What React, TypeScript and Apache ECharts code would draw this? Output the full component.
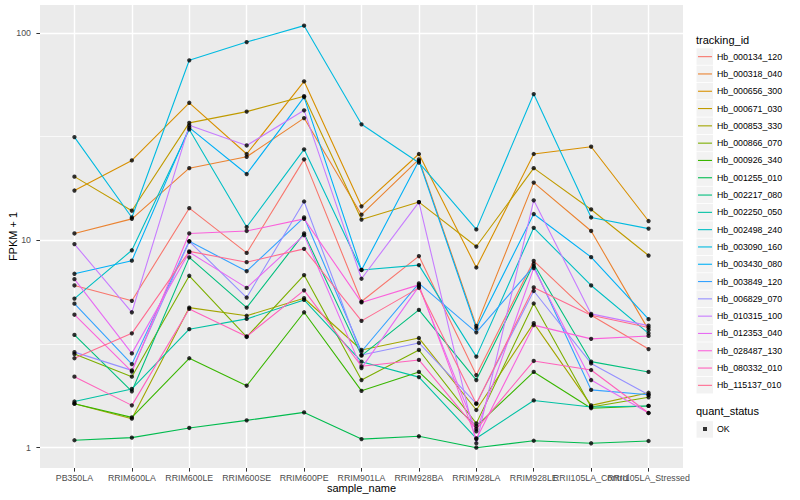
import React, { useEffect, useRef } from 'react';
import * as echarts from 'echarts';

const categories = [
  'PB350LA', 'RRIM600LA', 'RRIM600LE', 'RRIM600SE', 'RRIM600PE', 'RRIM901LA',
  'RRIM928BA', 'RRIM928LA', 'RRIM928LE', 'RRII105LA_Control', 'RRII105LA_Stressed',
];

const genes = [
  'Hb_000134_120', 'Hb_000318_040', 'Hb_000656_300', 'Hb_000671_030', 'Hb_000853_330',
  'Hb_000866_070', 'Hb_000926_340', 'Hb_001255_010', 'Hb_002217_080', 'Hb_002250_050',
  'Hb_002498_240', 'Hb_003090_160', 'Hb_003430_080', 'Hb_003849_120', 'Hb_006829_070',
  'Hb_010315_100', 'Hb_012353_040', 'Hb_028487_130', 'Hb_080332_010', 'Hb_115137_010',
];

const geneColors = [
  '#F8766D', '#EA8331', '#D89000', '#C09B00', '#A3A500', '#7CAE00', '#39B600', '#00BB4E',
  '#00BF7D', '#00C1A3', '#00BFC4', '#00BAE0', '#00B0F6', '#35A2FF', '#9590FF', '#C77CFF',
  '#E76BF3', '#FA62DB', '#FF62BC', '#FF6C91',
];

// FPKM + 1 values, one per sample (same order as categories)
const hb_000134_120 = [6.06, 5.11, 14.3, 8.7, 24.6, 5.07, 8.4, 2.24, 7.97, 4.35, 2.99];
const hb_000318_040 = [10.8, 12.7, 22.3, 25.3, 38.9, 13.3, 24.6, 3.87, 19.0, 11.1, 3.7];
const hb_000656_300 = [17.4, 24.3, 46.1, 26.1, 58.5, 14.6, 26.1, 7.4, 26.1, 28.3, 12.4];
const hb_000671_030 = [20.3, 13.9, 36.9, 41.8, 49.6, 12.6, 15.3, 9.34, 22.3, 14.1, 8.45];
const hb_000853_330 = [1.63, 1.38, 4.74, 4.33, 5.26, 2.96, 3.38, 1.52, 3.99, 1.6, 1.84];
const hb_000866_070 = [2.83, 2.2, 6.75, 3.42, 6.8, 2.12, 2.96, 1.31, 4.96, 1.57, 1.75];
const hb_000926_340 = [1.63, 1.4, 2.7, 1.99, 4.5, 1.88, 2.32, 1.27, 2.32, 1.55, 1.59];
const hb_001255_010 = [1.086, 1.118, 1.245, 1.355, 1.48, 1.1, 1.135, 1.0, 1.08, 1.05, 1.077];
const hb_002217_080 = [3.5, 1.87, 8.28, 4.74, 10.8, 2.78, 4.62, 2.12, 7.7, 2.6, 2.32];
const hb_002250_050 = [1.67, 1.92, 3.73, 4.18, 5.16, 2.6, 2.19, 1.11, 1.69, 1.57, 1.59];
const hb_002498_240 = [5.24, 8.96, 34.3, 11.6, 27.5, 7.2, 7.6, 2.75, 11.5, 6.06, 3.56];
const hb_003090_160 = [31.5, 12.9, 73.9, 90.5, 108.6, 36.3, 23.7, 11.3, 50.8, 12.9, 11.4];
const hb_003430_080 = [6.9, 7.98, 35.0, 20.9, 49.1, 7.2, 24.2, 3.77, 13.4, 8.3, 4.17];
const hb_003849_120 = [4.95, 2.53, 9.9, 7.1, 12.9, 2.91, 6.2, 3.6, 7.5, 1.9, 1.8];
const hb_006829_070 = [2.89, 2.36, 9.9, 5.3, 15.4, 2.8, 3.2, 1.63, 5.7, 2.55, 1.8];
const hb_010315_100 = [9.6, 4.5, 35.9, 28.7, 42.4, 6.53, 15.3, 1.05, 15.6, 4.42, 3.88];
const hb_012353_040 = [6.5, 2.85, 8.77, 5.9, 10.6, 2.42, 6.0, 1.2, 7.35, 2.12, 1.47];
const hb_028487_130 = [4.38, 2.33, 10.8, 11.1, 12.7, 5.02, 6.1, 1.1, 3.9, 3.35, 3.46];
const hb_080332_010 = [2.2, 1.6, 4.67, 3.44, 5.74, 2.47, 2.65, 1.23, 2.62, 2.37, 1.47];
const hb_115137_010 = [2.7, 3.56, 8.85, 7.85, 9.1, 4.09, 5.9, 1.63, 5.93, 4.35, 3.8];

const seriesValues = [
  hb_000134_120, hb_000318_040, hb_000656_300, hb_000671_030, hb_000853_330,
  hb_000866_070, hb_000926_340, hb_001255_010, hb_002217_080, hb_002250_050,
  hb_002498_240, hb_003090_160, hb_003430_080, hb_003849_120, hb_006829_070,
  hb_010315_100, hb_012353_040, hb_028487_130, hb_080332_010, hb_115137_010,
];

const yTickLabels = [1, 10, 100];
const quantStatus = ['OK'];

const FONT = "'Liberation Sans', Arial, Helvetica, sans-serif";

export default function App() {
  const ref = useRef<HTMLDivElement>(null);

  useEffect(() => {
    if (!ref.current) return;
    const chart = echarts.init(ref.current, null, { renderer: 'svg' });

    const lineSeries = genes.map((g, k) => ({
      type: 'line',
      name: g,
      data: seriesValues[k].map((v, i) => [i, v]),
      symbol: 'none',
      lineStyle: { color: geneColors[k], width: 1.1 },
      itemStyle: { color: geneColors[k] },
      silent: true,
      z: 2,
    }));

    const points: number[][] = [];
    seriesValues.forEach((arr) => arr.forEach((v, i) => points.push([i, v])));

    const keyRects: any[] = genes.map((_, i) => ({
      type: 'rect',
      shape: { x: 696.5, y: 48.3 + i * 17.3, width: 16.5, height: 16.5 },
      style: { fill: '#F2F2F2' },
      silent: true,
      z: -1,
    }));
    keyRects.push({
      type: 'rect',
      shape: { x: 696.5, y: 421.2, width: 16.5, height: 16.5 },
      style: { fill: '#F2F2F2' },
      silent: true,
      z: -1,
    });

    const yFormatter = (v: number) => {
      const t = yTickLabels.find((x) => Math.abs(x - v) / x < 1e-6);
      return t !== undefined ? String(t) : '';
    };

    const option: any = {
      animation: false,
      textStyle: { fontFamily: FONT },
      grid: {
        left: 40, right: 117, top: 5, bottom: 32,
        show: true, backgroundColor: '#EBEBEB', borderWidth: 0,
        containLabel: false,
        outerBoundsMode: 'none',
      },
      xAxis: {
        type: 'value',
        min: -0.6,
        max: 10.6,
        splitNumber: 11,
        minInterval: 1,
        maxInterval: 1,
        name: 'sample_name',
        nameLocation: 'middle',
        nameGap: 14,
        nameMoveOverlap: false,
        nameTextStyle: { fontSize: 11, color: '#000000', fontFamily: FONT },
        axisLine: { show: false, onZero: false },
        axisTick: { show: true, length: 3.6, lineStyle: { color: '#333333', width: 1 } },
        axisLabel: {
          formatter: (v: number) =>
            Math.abs(v - Math.round(v)) < 1e-6 ? categories[Math.round(v)] ?? '' : '',
          color: '#4D4D4D', fontSize: 8.8, margin: 5, fontFamily: FONT,
          showMinLabel: false, showMaxLabel: false, hideOverlap: false,
        },
        splitLine: {
          show: true, showMinLine: false, showMaxLine: false,
          lineStyle: { color: '#FFFFFF', width: 1.4 },
        },
      },
      yAxis: [
        {
          type: 'log',
          logBase: 10,
          min: 0.798,
          max: 136.6,
          splitNumber: 5,
          position: 'left',
          name: 'FPKM + 1',
          nameLocation: 'middle',
          nameGap: 22,
          nameRotate: 90,
          nameMoveOverlap: false,
          nameTextStyle: { fontSize: 11, color: '#000000', fontFamily: FONT },
          axisLine: { show: false, onZero: false },
          axisTick: { show: true, length: 3.6, lineStyle: { color: '#333333', width: 1 } },
          axisLabel: {
            formatter: yFormatter, color: '#4D4D4D', fontSize: 8.8, margin: 9,
            fontFamily: FONT, showMinLabel: false, showMaxLabel: false,
          },
          splitLine: {
            show: true, showMinLine: false, showMaxLine: false,
            lineStyle: { color: '#FFFFFF', width: 1.4 },
          },
          z: 1,
        },
        {
          type: 'log',
          logBase: Math.sqrt(10),
          min: 0.798,
          max: 136.6,
          splitNumber: 5,
          position: 'left',
          axisLine: { show: false, onZero: false },
          axisTick: { show: false },
          axisLabel: { show: false },
          splitLine: {
            show: true, showMinLine: false, showMaxLine: false,
            lineStyle: { color: '#FFFFFF', width: 0.7 },
          },
          z: 0,
        },
      ],
      title: [
        {
          text: 'tracking_id', left: 696, top: 34, padding: 0,
          textStyle: { fontSize: 11, fontWeight: 'normal', color: '#000000', fontFamily: FONT },
        },
        {
          text: 'quant_status', left: 696, top: 405.5, padding: 0,
          textStyle: { fontSize: 11, fontWeight: 'normal', color: '#000000', fontFamily: FONT },
        },
      ],
      legend: [
        {
          data: genes,
          orient: 'vertical',
          left: 698,
          top: 48,
          padding: 0,
          icon: 'rect',
          itemWidth: 14,
          itemHeight: 1.1,
          itemGap: 0,
          selectedMode: false,
          textStyle: { fontSize: 8.8, color: '#000000', fontFamily: FONT, lineHeight: 17.3, height: 17.3 },
        },
        {
          data: quantStatus,
          orient: 'vertical',
          left: 703,
          top: 424.5,
          padding: 0,
          icon: 'rect',
          itemWidth: 4,
          itemHeight: 4,
          selectedMode: false,
          textStyle: { fontSize: 8.8, color: '#000000', fontFamily: FONT, padding: [0, 0, 0, 5] },
        },
      ],
      graphic: keyRects,
      series: [
        ...lineSeries,
        {
          type: 'scatter',
          name: 'OK',
          data: points,
          symbol: 'circle',
          symbolSize: 4.3,
          itemStyle: { color: '#000000' },
          silent: true,
          z: 3,
        },
      ],
    };

    chart.setOption(option);
    return () => chart.dispose();
  }, []);

  return (
    <div
      ref={ref}
      style={{ position: 'absolute', left: 0, top: 0, width: 800, height: 500, background: '#FFFFFF' }}
    />
  );
}
